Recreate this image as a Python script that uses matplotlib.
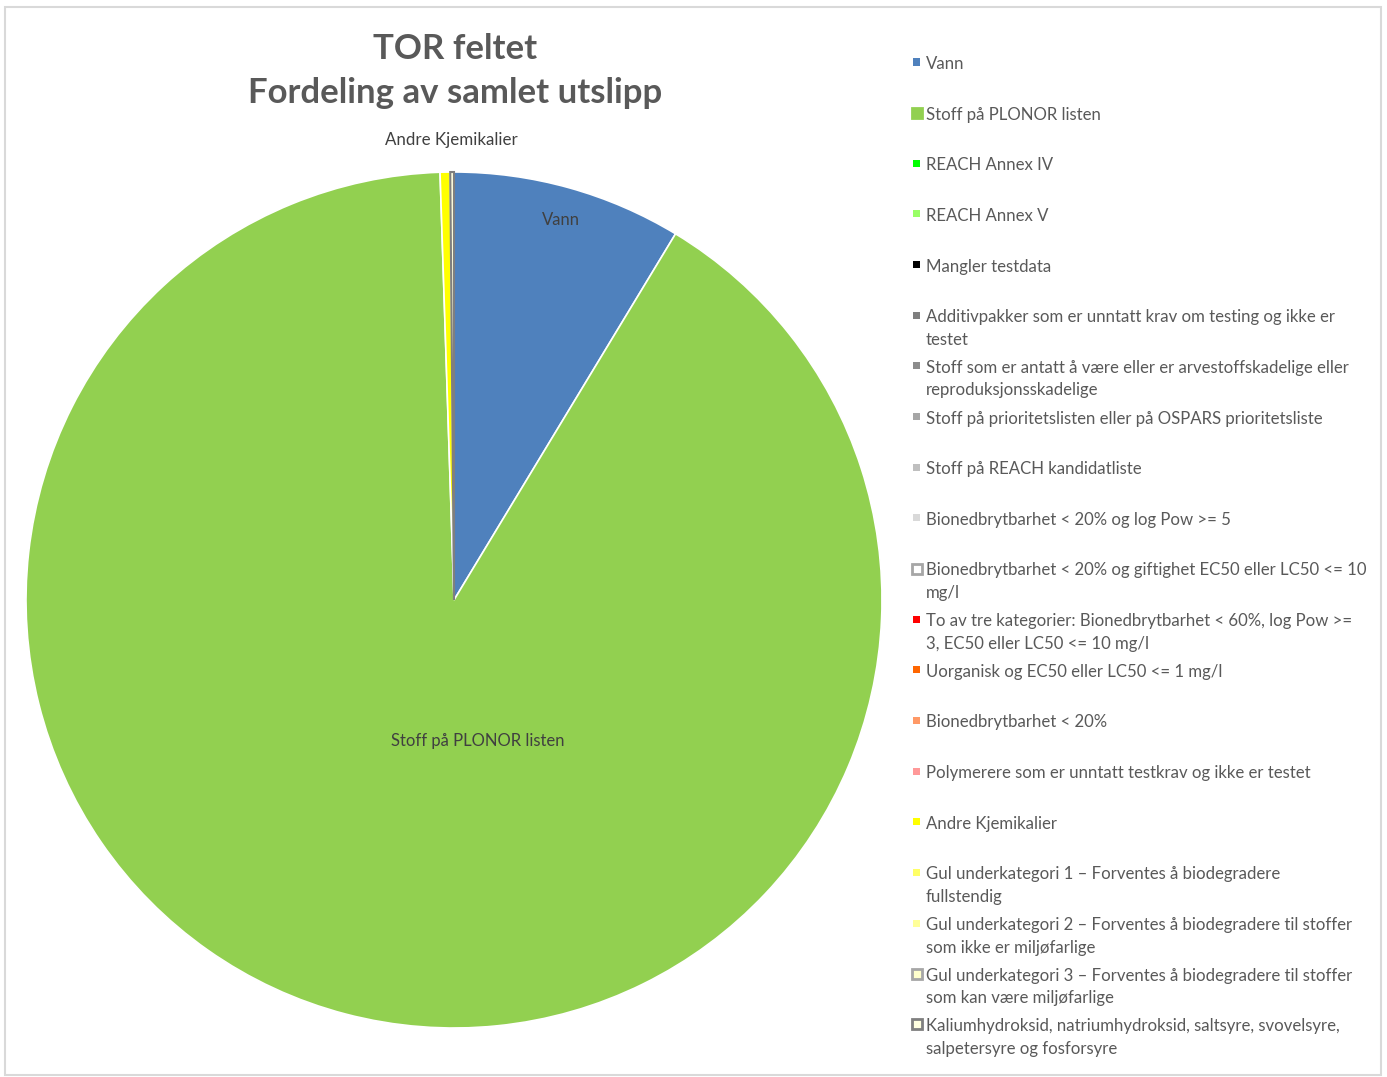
import matplotlib
matplotlib.use("Agg")
import matplotlib.pyplot as plt
from matplotlib.patches import Rectangle

plt.rcParams['font.family'] = ['Lato', 'DejaVu Sans']

title_lines = ["TOR feltet", "Fordeling av samlet utslipp"]

categories = [
    "Vann",
    "Stoff på PLONOR listen",
    "REACH Annex IV",
    "REACH Annex V",
    "Mangler testdata",
    "Additivpakker som er unntatt krav om testing og ikke er\ntestet",
    "Stoff som er antatt å være eller er arvestoffskadelige eller\nreproduksjonsskadelige",
    "Stoff på prioritetslisten eller på OSPARS prioritetsliste",
    "Stoff på REACH kandidatliste",
    "Bionedbrytbarhet < 20% og log Pow >= 5",
    "Bionedbrytbarhet < 20% og giftighet EC50 eller LC50 <= 10\nmg/l",
    "To av tre kategorier: Bionedbrytbarhet < 60%, log Pow >=\n3, EC50 eller LC50 <= 10 mg/l",
    "Uorganisk og EC50 eller LC50 <= 1 mg/l",
    "Bionedbrytbarhet < 20%",
    "Polymerere som er unntatt testkrav og ikke er testet",
    "Andre Kjemikalier",
    "Gul underkategori 1 – Forventes å biodegradere\nfullstendig",
    "Gul underkategori 2 – Forventes å biodegradere til stoffer\nsom ikke er miljøfarlige",
    "Gul underkategori 3 – Forventes å biodegradere til stoffer\nsom kan være miljøfarlige",
    "Kaliumhydroksid, natriumhydroksid, saltsyre, svovelsyre,\nsalpetersyre og fosforsyre",
]

shares = [8.66, 90.82, 0, 0, 0, 0, 0, 0, 0, 0, 0, 0, 0, 0, 0, 0.38, 0, 0, 0, 0.14]

colors = ["#4F81BD", "#92D050", "#00FF00", "#99FF66", "#000000", "#7F7F7F",
          "#8C8C8C", "#A6A6A6", "#BFBFBF", "#D9D9D9", "#FFFFFF", "#FF0000",
          "#FF6600", "#FF9966", "#FF9999", "#FFFF00", "#FFFF66", "#FFFF99",
          "#FFFFCC", "#FFFFE0"]
edges = [None, "#92D050", None, None, None, None, None, None, None, None,
         "#A6A6A6", None, None, None, None, None, None, None, "#A6A6A6", "#7F7F7F"]

W, H = 1387, 1077
fig = plt.figure(figsize=(W / 100, H / 100), dpi=100)

# frame
fig.patches.append(Rectangle((5 / W, 2 / H), 1376 / W, 1068 / H, transform=fig.transFigure,
                             fill=False, edgecolor="#D9D9D9", linewidth=1.5))

cx, cy, R = 454, 600, 428
ax = fig.add_axes([(cx - R) / W, (H - cy - R) / H, 2 * R / W, 2 * R / H])
vals, cols, names = [], [], []
for c, v, col in zip(categories, shares, colors):
    if v > 0:
        vals.append(v); cols.append(col); names.append(c)
wedges, _ = ax.pie(vals, colors=cols, startangle=90, counterclock=False, radius=1,
                   wedgeprops=dict(linewidth=1.0))
for w, n in zip(wedges, names):
    if n.startswith("Kalium"):
        w.set_edgecolor("#7F7F7F"); w.set_linewidth(1.5)
    else:
        w.set_edgecolor("white"); w.set_linewidth(1.2)
ax.set_xlim(-1, 1); ax.set_ylim(-1, 1)
ax.set_aspect("equal")
ax.axis("off")

lab_col = "#404040"
ax.text(0.25, 0.888, "Vann", ha="center", va="center", fontsize=12, color=lab_col)
ax.text(0.056, -0.33, "Stoff på PLONOR listen", ha="center", va="center", fontsize=12, color=lab_col)
ax.text(-0.005, 1.075, "Andre Kjemikalier", ha="center", va="center", fontsize=12.2, color=lab_col)

# title
fig.text(455 / W, 1 - 49 / H, title_lines[0], ha="center", va="center", fontsize=25,
         fontweight="bold", color="#595959")
fig.text(455 / W, 1 - 93 / H, title_lines[1], ha="center", va="center", fontsize=25,
         fontweight="bold", color="#595959")

# legend
y0, step = 62, 50.65
for i, (c, col, ec) in enumerate(zip(categories, colors, edges)):
    y = y0 + i * step
    if ec is not None:
        s = 10
        fig.patches.append(Rectangle(((916.5 - s / 2) / W, (H - y - s / 2) / H), s / W, s / H,
                                     transform=fig.transFigure, facecolor=col,
                                     edgecolor=ec, linewidth=2))
    else:
        s = 7
        fig.patches.append(Rectangle(((916.5 - s / 2) / W, (H - y - s / 2) / H), s / W, s / H,
                                     transform=fig.transFigure, facecolor=col, edgecolor="none"))
    lines = c.split("\n")
    for j, ln in enumerate(lines):
        fig.text(926 / W, 1 - (y + 2 + j * 22.5) / H, ln, ha="left", va="center",
                 fontsize=12.1, color="#595959")

fig.savefig("out.png", dpi=100)
